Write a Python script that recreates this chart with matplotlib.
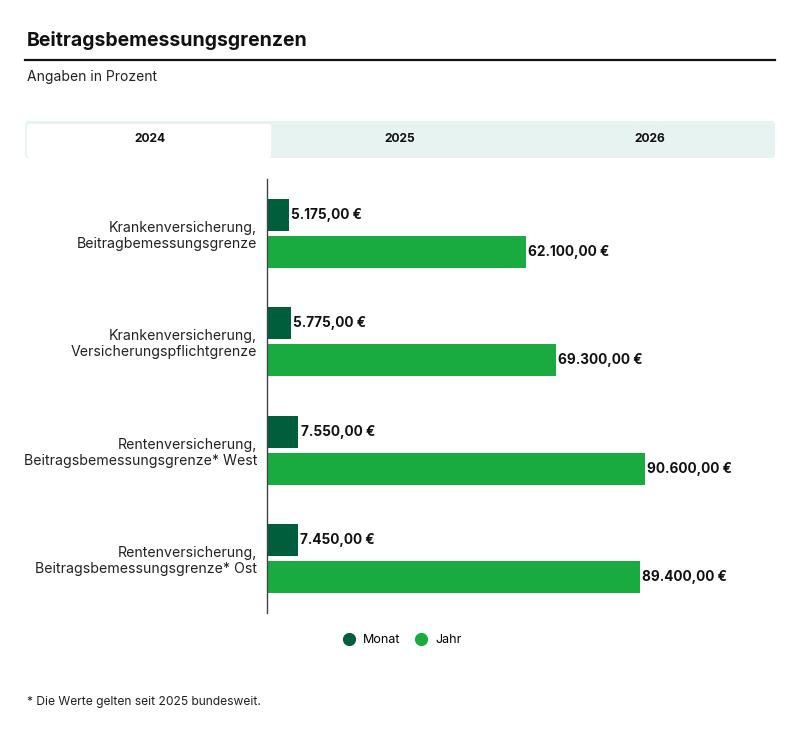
import matplotlib.pyplot as plt
from matplotlib.patches import FancyBboxPatch
from matplotlib.lines import Line2D

plt.rcParams['font.family'] = ['Inter', 'DejaVu Sans']

categories = [
    "Krankenversicherung,\nBeitragbemessungsgrenze",
    "Krankenversicherung,\nVersicherungspflichtgrenze",
    "Rentenversicherung,\nBeitragsbemessungsgrenze* West",
    "Rentenversicherung,\nBeitragsbemessungsgrenze* Ost",
]
monat = [5175.00, 5775.00, 7550.00, 7450.00]
jahr = [62100.00, 69300.00, 90600.00, 89400.00]
tabs = ["2024", "2025", "2026"]

c_monat = "#005e3c"
c_jahr = "#1aab40"
c_tab = "#e7f3f0"

W, H = 800, 736
fig = plt.figure(figsize=(W / 100, H / 100), dpi=100)


def fx(px):
    return px / W


def fy(py):
    return 1 - py / H


def euro(v):
    s = f"{v:,.2f}"
    return s.replace(",", "X").replace(".", ",").replace("X", ".") + " €"


# title + rule
fig.text(fx(27), fy(40), "Beitragsbemessungsgrenzen", fontsize=14,
         fontweight="bold", va="center", ha="left", color="#111111")
fig.add_artist(Line2D([fx(25), fx(775)], [fy(60), fy(60)], color="#111111",
                      lw=1.6, transform=fig.transFigure))
fig.text(fx(27), fy(77), "Angaben in Prozent", fontsize=10, va="center",
         ha="left", color="#222222")

# tab bar
fig.add_artist(FancyBboxPatch((fx(25), fy(158)), fx(750), 37 / H,
                              boxstyle="round,pad=0,rounding_size=0.004",
                              facecolor=c_tab, edgecolor="none",
                              transform=fig.transFigure))
fig.add_artist(FancyBboxPatch((fx(27), fy(158)), fx(244), 34 / H,
                              boxstyle="round,pad=0,rounding_size=0.004",
                              facecolor="white", edgecolor="none",
                              transform=fig.transFigure))
tab_x = [150, 400, 650]
for t, x in zip(tabs, tab_x):
    fig.text(fx(x), fy(139), t, fontsize=8.7, fontweight="bold",
             ha="center", va="center", color="#111111")

# bars
ax = fig.add_axes([fx(267), fy(613), fx(775 - 267), (613 - 179) / H])
y = list(range(len(categories)))
off = 0.17
h = 0.295
ax.barh([i - off for i in y], monat, height=h, color=c_monat)
ax.barh([i + off for i in y], jahr, height=h, color=c_jahr)
ax.set_xlim(0, 121800)
ax.set_ylim(len(categories) - 0.5, -0.5)
for i in y:
    ax.text(monat[i] + 500, i - off, euro(monat[i]), va="center", ha="left",
            fontsize=9.8, fontweight="bold", color="#111111")
    ax.text(jahr[i] + 500, i + off, euro(jahr[i]), va="center", ha="left",
            fontsize=9.8, fontweight="bold", color="#111111")
ax.set_yticks(y)
ax.set_yticklabels(categories, fontsize=10.2, color="#222222", linespacing=1.2)
ax.tick_params(axis="y", length=0, pad=7)
ax.set_xticks([])
for s in ["top", "right", "bottom"]:
    ax.spines[s].set_visible(False)
ax.spines["left"].set_color("#444444")
ax.spines["left"].set_linewidth(1)

# legend
handles = [
    Line2D([], [], marker="o", ls="none", color=c_monat, markersize=8.5, label="Monat"),
    Line2D([], [], marker="o", ls="none", color=c_jahr, markersize=8.5, label="Jahr"),
]
fig.legend(handles=handles, loc="center", bbox_to_anchor=(fx(402), fy(640)),
           ncol=2, frameon=False, fontsize=9, handletextpad=0.6,
           columnspacing=1.2, handlelength=1.0)

fig.text(fx(27), fy(702), "* Die Werte gelten seit 2025 bundesweit.",
         fontsize=8.7, ha="left", va="center", color="#222222")

fig.savefig("out.png", dpi=100)
